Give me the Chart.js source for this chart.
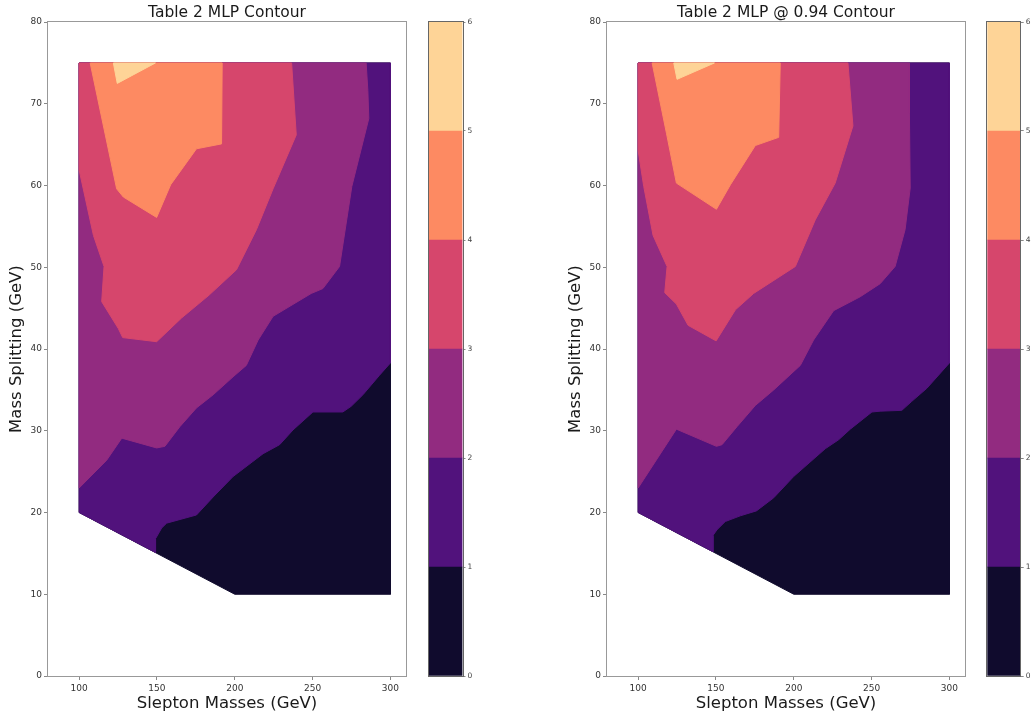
<!DOCTYPE html>
<html>
<head>
<meta charset="utf-8">
<script src="https://cdn.jsdelivr.net/npm/chart.js@4/dist/chart.umd.min.js"></script>
<style>
body{margin:0;background:#fff;width:1035px;height:715px;overflow:hidden;position:relative}
canvas{position:absolute;top:0}
</style>
</head>
<body>
<canvas id="chartMLP" width="420" height="715" style="left:0"></canvas>
<canvas id="barMLP" width="60" height="715" style="left:420px"></canvas>
<canvas id="chartCut" width="420" height="715" style="left:559px"></canvas>
<canvas id="barCut" width="57" height="715" style="left:978px"></canvas>
<script>
var xTicks=[100,150,200,250,300];
var yTicks=[0,10,20,30,40,50,60,70,80];
var levels=[0,1,2,3,4,5,6];
var magma=['#100b2d','#51127c','#922b80','#d6466c','#fd8a62','#fed497'];

// each region is the area where the value is >= its level
var mlpLevel0=[[100,75],[300,75],[300,10],[200,10],[100,20]];
var mlpLevel1=[[100,75],[300,75],[300,38.3],[293,36.8],[282.3,34.4],[274.8,33.0],[269.4,32.3],[250.2,32.3],[237.4,30.1],[228.8,28.3],[218.2,27.2],[198.9,24.4],[186.1,21.9],[175.4,19.7],[156.2,18.7],[153,18.1],[149.1,16.8],[149.1,15.1],[100,20]];
var mlpLevel2=[[100,75],[284.4,75],[285.5,71.6],[286.1,68.2],[275.2,59.9],[267.3,50.1],[256.6,47.4],[249.1,46.8],[224.6,44.0],[215,41.1],[207.4,38.0],[198.9,36.6],[186.1,34.4],[175.4,32.8],[164.7,30.5],[155.1,28.1],[149.8,27.9],[127.4,29.1],[117.7,26.4],[100,23]];
var mlpLevel3=[[100,75],[236.5,75],[239.5,66.2],[224.6,59.6],[213.9,54.6],[201.1,49.7],[183.5,46.6],[165.8,43.8],[149.8,40.9],[128,41.4],[125.2,42.5],[114.5,45.8],[116,50.1],[109.2,53.9],[100,61.9]];
var mlpLevel4=[[107.1,75],[191.9,75],[191.5,65.1],[175.4,64.5],[158.8,60.1],[149.8,56.1],[128.4,58.6],[124.1,59.6]];
var mlpLevel5=[[122,75],[149,75],[124.5,72.5]];

var cutLevel0=[[100,75],[300,75],[300,10],[200,10],[100,20]];
var cutLevel1=[[100,75],[300,75],[300,38.3],[285.5,35.2],[275.8,33.6],[269.4,32.5],[255.5,32.4],[250.2,32.3],[236.3,30.2],[228.8,28.9],[220.2,27.8],[199.9,24.4],[187.1,21.8],[176,20.2],[165.7,19.6],[156,18.9],[150.7,17.9],[148.1,17.2],[148.1,15.2],[100,20]];
var cutLevel2=[[100,75],[274.1,75],[274.3,68.8],[274.8,59.7],[271.5,54.6],[265.1,50.1],[255.5,48.0],[242.7,46.4],[225.6,44.7],[212.7,41.1],[204.2,38.0],[187.1,35.0],[175.3,33.1],[163.5,30.5],[153.9,28.3],[150.3,28.1],[124.6,30.2],[100,23]];
var cutLevel3=[[100,75],[234.8,75],[238,67.3],[226.6,60.3],[213.8,55.8],[201,50.1],[174.2,46.8],[162.5,44.8],[150.1,41],[132.1,42.9],[124.6,45.5],[117.1,46.9],[118.6,50.1],[109.6,53.9],[103.6,59.9],[100,64.3]];
var cutLevel4=[[109,75],[191.3,75],[190.3,65.9],[175.3,64.9],[159.3,60.1],[150.3,57.1],[124.6,60.3],[118.2,66.4]];
var cutLevel5=[[122.9,75],[149,75],[125,73]];

var FONT='"DejaVu Sans", sans-serif';

// matplotlib style box round the plot area
function framePlugin(color){
	return {id:'frame', afterDraw:function(chart){
		var ctx=chart.ctx, a=chart.chartArea;
		ctx.save();
		ctx.strokeStyle=color;
		ctx.lineWidth=1;
		ctx.strokeRect(Math.round(a.left)-0.5,Math.round(a.top)-0.5,Math.round(a.width)+1,Math.round(a.height)+1);
		ctx.restore();
	}};
}

function polygon(points){
	var pts=points.concat([points[0]]);
	return pts.map(function(p){ return {x:p[0],y:p[1]}; });
}

function drawContour(id,title,regions){
	var datasets=new Array();
	for (var i = 0; i < regions.length; i++){
		datasets.push({
			data:polygon(regions[i]),
			backgroundColor:magma[i],
			borderColor:magma[i],
			borderWidth:1,
			pointRadius:0,
			tension:0,
			fill:'shape',
			order:regions.length-i
		});
	}
	var tickFont={family:FONT,size:9};
	var labelFont={family:FONT,size:16.5};
	new Chart(document.getElementById(id),{
		type:'line',
		data:{datasets:datasets},
		options:{
			responsive:false,
			animation:false,
			events:[],
			layout:{padding:{right:14}},
			plugins:{
				legend:{display:false},
				tooltip:{enabled:false},
				title:{display:true,text:title,fullSize:false,color:'#1a1a1a',font:{family:FONT,size:15.5,weight:'normal'},padding:{top:3.5,bottom:0}}
			},
			scales:{
				x:{
					type:'linear',min:80,max:310,
					afterFit:function(s){ s.height=39; },
					afterBuildTicks:function(s){ s.ticks=xTicks.map(function(v){ return {value:v}; }); },
					grid:{drawOnChartArea:false,tickLength:4,color:'#888'},
					border:{display:false},
					ticks:{font:tickFont,color:'#333',padding:3,maxRotation:0},
					title:{display:true,text:'Slepton Masses (GeV)',font:labelFont,color:'#1a1a1a',padding:{top:0,bottom:1.5}}
				},
				y:{
					type:'linear',min:0,max:80,
					afterFit:function(s){ s.width=48; },
					afterBuildTicks:function(s){ s.ticks=yTicks.map(function(v){ return {value:v}; }); },
					grid:{drawOnChartArea:false,tickLength:4,color:'#888'},
					border:{display:false},
					ticks:{font:tickFont,color:'#333',padding:2},
					title:{display:true,text:'Mass Splitting (GeV)',font:labelFont,color:'#1a1a1a',padding:{top:7,bottom:0}}
				}
			}
		},
		plugins:[framePlugin('#999')]
	});
}

function drawColorbar(id,padLeft,axisWidth){
	var datasets=new Array();
	for (var i = 0; i < magma.length; i++){
		datasets.push({data:[[levels[i],levels[i+1]]],backgroundColor:magma[i],borderWidth:0,barPercentage:1,categoryPercentage:1,grouped:false});
	}
	new Chart(document.getElementById(id),{
		type:'bar',
		data:{labels:[''],datasets:datasets},
		options:{
			responsive:false,
			animation:false,
			events:[],
			layout:{padding:{left:padLeft,top:22,bottom:39}},
			plugins:{legend:{display:false},tooltip:{enabled:false}},
			scales:{
				x:{display:false},
				y:{
					position:'right',min:0,max:6,
					afterFit:function(s){ s.width=axisWidth; },
					afterBuildTicks:function(s){ s.ticks=levels.map(function(v){ return {value:v}; }); },
					grid:{drawOnChartArea:false,tickLength:3,color:'#888'},
					border:{display:false},
					ticks:{font:{family:FONT,size:7.5},color:'#444',padding:2}
				}
			}
		},
		plugins:[framePlugin('#666')]
	});
}

drawContour('chartMLP','Table 2 MLP Contour',[mlpLevel0,mlpLevel1,mlpLevel2,mlpLevel3,mlpLevel4,mlpLevel5]);
drawColorbar('barMLP',9,17.5);
drawContour('chartCut','Table 2 MLP @ 0.94 Contour',[cutLevel0,cutLevel1,cutLevel2,cutLevel3,cutLevel4,cutLevel5]);
drawColorbar('barCut',9.3,14.3);
</script>
</body>
</html>
